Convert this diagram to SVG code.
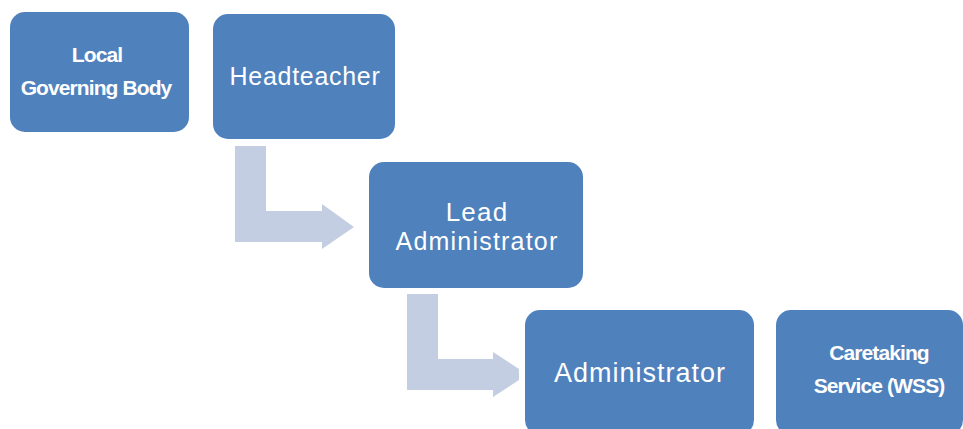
<svg xmlns="http://www.w3.org/2000/svg" width="963" height="429" viewBox="0 0 963 429">
<style>
.box{fill:#4f81bd;}
.arrow{fill:#c3cee2;}
.b{font-family:"Liberation Sans",Arial,sans-serif;font-weight:bold;fill:#fff;text-anchor:middle;font-size:21px;letter-spacing:-0.9px;}
.r{font-family:"Liberation Sans",Arial,sans-serif;fill:#fff;text-anchor:middle;}
</style>
<rect width="963" height="429" fill="#fff"/>
<g id="connectors">
<polygon class="arrow" points="235,146 266,146 266,211 322,211 322,204 354,227 322,249 322,242 235,242"/>
<polygon class="arrow" points="407,294 438,294 438,359 493,359 493,352 519,369 519,380 493,397 493,390 407,390"/>
</g>
<g id="local-governing-body">
<rect class="box" x="10" y="12" width="179" height="120" rx="15"/>
<text class="b" x="97" y="62">Local</text>
<text class="b" x="96" y="95">Governing Body</text>
</g>
<g id="headteacher">
<rect class="box" x="213" y="14" width="182" height="125" rx="15"/>
<text class="r" x="305" y="85" font-size="25" letter-spacing="0.7">Headteacher</text>
</g>
<g id="lead-administrator">
<rect class="box" x="369" y="162" width="214" height="126" rx="15"/>
<text class="r" x="477" y="221" font-size="26" letter-spacing="1.2">Lead</text>
<text class="r" x="477" y="250" font-size="25" letter-spacing="1.2">Administrator</text>
</g>
<g id="administrator">
<rect class="box" x="525" y="310" width="229" height="125" rx="15"/>
<text class="r" x="640" y="382" font-size="27" letter-spacing="1">Administrator</text>
</g>
<g id="caretaking-service">
<rect class="box" x="776" y="310" width="187" height="125" rx="15"/>
<text class="b" x="879" y="360">Caretaking</text>
<text class="b" x="879" y="393">Service (WSS)</text>
</g>
</svg>
